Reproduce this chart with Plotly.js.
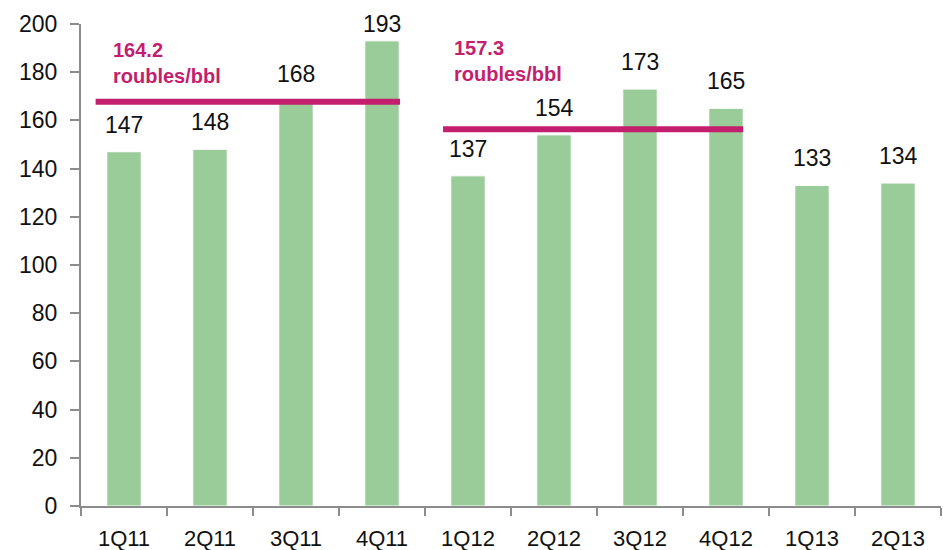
<!DOCTYPE html>
<html>
<head>
<meta charset="utf-8">
<script src="https://cdn.plot.ly/plotly-3.0.1.min.js"></script>
<style>html,body{margin:0;padding:0;background:#fff;}#chart{width:943px;height:550px;}</style>
</head>
<body>
<div id="chart"></div>
<script>
// Data
const quarters = ['1Q11','2Q11','3Q11','4Q11','1Q12','2Q12','3Q12','4Q12','1Q13','2Q13'];
const prices = [147, 148, 168, 193, 137, 154, 173, 165, 133, 134];
const yTicks = [0, 20, 40, 60, 80, 100, 120, 140, 160, 180, 200];
// Yearly averages (label text, level drawn in picture, span in category units)
const avgLabels = ['164.2', '157.3'];
const avgUnit = 'roubles/bbl';
const avgLevels = [167.7, 156.3];
const avgStart = [-0.33, 3.71];
const avgEnd = [3.21, 7.2];
const avgTextX = [-0.15, 3.81];
const avgTextY = [184.0, 184.6];

const pink = '#C41E6E';
const axisGrey = '#8c8c8c';
const fam = 'Liberation Sans, Arial, sans-serif';

const trace = {
  type: 'bar',
  x: quarters,
  y: prices,
  marker: {color: '#9ACC99', line: {color: '#ffffff', width: 1}},
  hoverinfo: 'x+y'
};

const annotations = prices.map((v, i) => ({
  x: quarters[i], y: v, xref: 'x', yref: 'y',
  text: String(v), showarrow: false,
  yanchor: 'middle', yshift: v > 185 ? 17 : 27,
  font: {family: fam, size: 23, color: '#111'}
}));
avgLabels.forEach((t, i) => {
  annotations.push({
    x: avgTextX[i], y: avgTextY[i], xref: 'x', yref: 'y',
    text: '<b>' + t + '</b><br><b>' + avgUnit + '</b>',
    showarrow: false, xanchor: 'left', yanchor: 'middle', align: 'left',
    font: {family: fam, size: 20, color: pink}
  });
});

const shapes = avgLevels.map((lv, i) => ({
  type: 'line', xref: 'x', yref: 'y',
  x0: avgStart[i], x1: avgEnd[i], y0: lv, y1: lv,
  line: {color: pink, width: 6}
}));

const layout = {
  width: 943, height: 550,
  margin: {l: 81, r: 2, t: 24, b: 44, pad: 0},
  paper_bgcolor: '#ffffff', plot_bgcolor: '#ffffff',
  showlegend: false,
  bargap: 0.6,
  font: {family: fam, size: 22, color: '#111'},
  xaxis: {
    type: 'category',
    showline: true, linecolor: axisGrey, linewidth: 2,
    ticks: 'outside', tickson: 'boundaries', ticklen: 8, tickwidth: 2, tickcolor: axisGrey,
    showgrid: false, zeroline: false,
    ticklabelstandoff: 12,
    tickfont: {family: fam, size: 22, color: '#111'}
  },
  yaxis: {
    range: [0, 200], tickvals: yTicks,
    showline: true, linecolor: axisGrey, linewidth: 2,
    ticks: 'outside', ticklen: 9, tickwidth: 2, tickcolor: axisGrey,
    showgrid: false, zeroline: false,
    ticklabelstandoff: 8,
    tickfont: {family: fam, size: 23, color: '#111'}
  },
  annotations: annotations,
  shapes: shapes
};

Plotly.newPlot('chart', [trace], layout, {displayModeBar: false, staticPlot: true});
</script>
</body>
</html>
